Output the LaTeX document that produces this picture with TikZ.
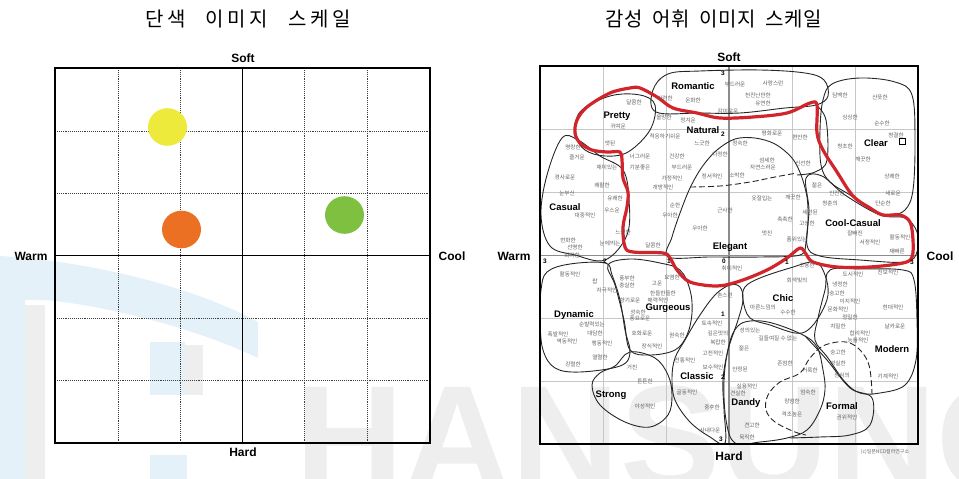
\documentclass[tikz,border=0pt]{standalone}
\usepackage{fontspec}
\newfontfamily\kr{Noto Sans CJK KR}
\newfontfamily\ttl[LetterSpace=18,WordSpace=2.5]{Noto Sans CJK KR}
\newfontfamily\ttlb[LetterSpace=3,WordSpace=1.9]{Noto Sans CJK KR}
\newfontfamily\lsb{Liberation Sans Bold}
\definecolor{wmblue}{HTML}{E4F1F9}
\definecolor{wmgray}{HTML}{EEEEEE}
\definecolor{cyel}{HTML}{EEEA3C}
\definecolor{cora}{HTML}{EC7023}
\definecolor{cgrn}{HTML}{80C040}
\definecolor{redline}{HTML}{D1242B}
\begin{document}
\begin{tikzpicture}[x=1pt,y=-1pt,
  word/.style={font=\kr\fontsize{5.6}{6}\selectfont, text=black!62, inner sep=0pt},
  lbl/.style={font=\lsb\fontsize{9.5}{10}\selectfont, inner sep=0pt},
  axl/.style={font=\lsb\fontsize{12}{12}\selectfont, inner sep=0pt},
  num/.style={font=\lsb\fontsize{6.5}{7}\selectfont, inner sep=0pt},
  titlestyle/.style={font=\ttl\fontsize{20}{22}\selectfont, inner sep=0pt},
  titlestyleb/.style={font=\ttlb\fontsize{20}{22}\selectfont, inner sep=0pt},
  blob/.style={draw=black!85, line width=0.9pt},
  dotgrid/.style={draw=black!75, line width=0.9pt, densely dotted},
  rgrid/.style={draw=black!22, line width=0.6pt}]
\useasboundingbox (0,0) rectangle (959,479);
% watermark
\begin{scope}
\clip (0,0) rectangle (959,479);
\fill[wmblue] (0,256) .. controls (100,262) and (200,290) .. (258,322) -- (258,358) .. controls (200,330) and (110,306) .. (45,300) -- (25,300) -- (25,479) -- (0,479) -- cycle;
\fill[wmgray] (25,305) rectangle (45,479);
\fill[wmblue] (150,342) rectangle (185,395);
\fill[wmgray] (185,345) rectangle (203,395);
\fill[wmblue] (150,455) rectangle (187,479);
\node[anchor=base west, font=\lsb\fontsize{150}{150}\selectfont, text=wmgray, inner sep=0pt] (wm) at (295,490) {HANSUNG};
\end{scope}
% ---------- left panel ----------
\node[titlestyle] (t1) at (248,19) {단색 이미지 스케일};
\foreach \gx in {118,180.3,304.3,367.7} \draw[dotgrid] (\gx,68) -- (\gx,443);
\foreach \gy in {131.3,193.3,318.3,380.3} \draw[dotgrid] (55,\gy) -- (430,\gy);
\draw[line width=0.9pt] (242.3,68) -- (242.3,443);
\draw[line width=0.9pt] (55,255.7) -- (430,255.7);
\draw[line width=1.8pt] (55,68.3) rectangle (429.7,443.3);
\fill[cyel] (167.5,127) ellipse [x radius=19.5, y radius=18.8];
\fill[cora] (181.5,229.5) ellipse [x radius=19.5, y radius=18.8];
\fill[cgrn] (344.5,215) ellipse [x radius=19.5, y radius=18.8];
\node[axl] (ls) at (243,58) {Soft};
\node[axl] (lh) at (243,452) {Hard};
\node[axl] (lw) at (31,256) {Warm};
\node[axl] (lc) at (452,256) {Cool};
% ---------- right panel ----------
\node[titlestyleb] (t2) at (714,19) {감성 어휘 이미지 스케일};
\foreach \gx in {603,666,792,855} \draw[rgrid] (\gx,66) -- (\gx,444);
\foreach \gy in {129,192,318,381} \draw[rgrid] (540,\gy) -- (918,\gy);
\draw[draw=black!45, line width=1.1pt] (729,66) -- (729,444);
\draw[draw=black!45, line width=1.1pt] (540,255.5) -- (918,255.5);
% blobs
\draw[blob] plot[smooth cycle, tension=0.6] coordinates {(656,112) (653,90) (668,74) (700,71) (760,70) (805,73) (824,80) (828,96) (816,105) (785,108) (740,113) (700,113)};
\draw[blob] plot[smooth cycle, tension=0.6] coordinates {(580,112) (610,96) (640,95) (655,105) (650,130) (628,152) (605,156) (585,150) (576,135)};
\draw[blob] plot[smooth cycle, tension=0.6] coordinates {(562,138) (578,140) (600,156) (623,170) (629,200) (627,235) (605,260) (575,255) (550,246) (541,215) (547,175)};
\draw[blob] plot[smooth, tension=0.6] coordinates {(816,105) (826,120) (827,160) (815,172) (797,175)};
\draw[blob] plot[smooth cycle, tension=0.55] coordinates {(668,257) (672,237) (680,213) (690,188) (702,167) (717,150) (735,139) (755,138) (775,144) (792,158) (801,175) (807,197) (808,220) (806,242) (800,255) (760,257) (710,257)};
\draw[blob, dashed, dash pattern=on 6pt off 3pt] plot[smooth, tension=0.6] coordinates {(690,187) (720,186) (750,182) (775,177) (797,173)};
\draw[blob] plot[smooth cycle, tension=0.6] coordinates {(823,100) (832,84) (860,78) (895,82) (912,95) (915,140) (913,190) (905,210) (890,215) (875,212) (850,195) (830,182) (821,165) (820,130)};
\draw[blob] plot[smooth cycle, tension=0.6] coordinates {(806,178) (822,176) (845,195) (880,215) (905,218) (917,232) (917,252) (905,262) (860,260) (820,256) (807,245) (809,210)};
\draw[blob] plot[smooth cycle, tension=0.6] coordinates {(547,272) (570,264) (605,263) (612,275) (620,300) (625,330) (630,353) (620,366) (580,372) (555,368) (543,350) (540,320) (541,290)};
\draw[blob] plot[smooth cycle, tension=0.6] coordinates {(608,265) (630,259) (660,263) (680,270) (690,290) (692,313) (687,335) (675,350) (650,355) (630,350) (624,320) (615,285)};
\draw[blob] plot[smooth cycle, tension=0.6] coordinates {(630,352) (655,358) (668,375) (672,395) (668,415) (650,427) (625,422) (600,405) (592,385) (600,373) (615,366)};
\draw[blob] plot[smooth cycle, tension=0.6] coordinates {(740,287) (743,300) (738,320) (728,350) (723,380) (724,410) (725,443) (710,437) (690,422) (675,400) (672,378) (675,358) (685,340) (698,318) (715,295) (730,285)};
\draw[blob] plot[smooth cycle, tension=0.6] coordinates {(745,287) (760,278) (790,268) (815,262) (825,275) (828,295) (820,315) (808,330) (795,333) (770,325) (750,318) (743,300)};
\draw[blob] plot[smooth cycle, tension=0.6] coordinates {(737,327) (750,321) (772,323) (803,335) (817,347) (823,370) (825,390) (820,410) (807,430) (787,438) (760,442) (735,443) (726,420) (724,380) (729,345)};
\draw[blob, dashed, dash pattern=on 6pt off 3pt] plot[smooth, tension=0.6] coordinates {(872,395) (868,362) (850,343) (825,345) (810,358) (800,373) (780,382) (768,395) (766,410) (775,422) (795,432) (806,435)};
\draw[blob] plot[smooth, tension=0.6] coordinates {(805,336) (827,360) (850,388) (872,398) (870,425) (850,435) (820,437) (790,438)};
\draw[blob] plot[smooth cycle, tension=0.6] coordinates {(830,270) (860,269) (903,270) (914,280) (917,320) (916,360) (905,385) (880,393) (860,393) (845,382) (828,358) (815,340) (818,318) (825,290)};
% frame
\draw[line width=2.4pt] (540,66) rectangle (918,444);
% red contour
\draw[redline, line width=3.2pt, line join=round] plot[smooth cycle, tension=0.55] coordinates {(630,88) (610,93) (587,107) (577,120) (575,133) (580,143) (592,150) (607,152) (620,152) (622,160) (623,178) (628,192) (627,207) (623,227) (625,247) (633,252) (663,253) (670,258) (677,270) (690,282) (717,286) (740,281) (767,270) (787,258) (800,248) (806,254) (813,262) (837,267) (870,267) (903,263) (912,257) (913,240) (910,222) (900,215) (883,215) (870,208) (853,196) (837,172) (823,150) (817,133) (817,105) (810,103) (787,113) (753,117) (720,118) (697,113) (673,108) (657,97) (640,88)};
% axis numbers
\node[num] (n1) at (723,73) {3};
\node[num] (n2) at (723,134) {2};
\node[num] (n3) at (723,314) {1};
\node[num] (n4) at (723,377) {2};
\node[num] (n5) at (721,439) {3};
\node[num] (n6) at (545,261) {3};
\node[num] (n7) at (605,261) {2};
\node[num] (n8) at (669,261) {1};
\node[num] (n9) at (724,261) {0};
\node[num] (n10) at (787,262) {1};
\node[num] (n11) at (912,262) {3};
% words
\foreach [count=\i] \x/\y/\t in {735/84/부드러운, 773/83/사랑스런, 665/98/가련한, 693/100/온화한, 634/102/달콤한, 758/95/천진난만한, 763/103/유연한, 728/111/감미로운, 618/126/귀여운, 664/117/올망한, 688/120/정겨운, 665/136/적응하기쉬운, 702/143/느긋한, 573/147/명랑한, 577/157/즐거운, 607/167/재미있는, 610/143/앳된, 640/156/너그러운, 677/156/건강한, 640/167/기분좋은, 682/167/부드러운, 565/177/경사로운, 602/185/쾌활한, 672/178/가정적인, 663/187/개방적인, 712/176/정서적인, 567/193/눈부신, 615/198/유쾌한, 612/210/우스운, 585/215/대중적인, 623/232/느긋한, 568/240/번화한, 575/247/선명한, 610/243/눈에띄는, 572/255/화려한, 675/205/순한, 670/215/우아한, 653/245/달콤한, 700/228/우아한, 725/210/근사한, 772/133/평화로운, 800/137/편안한, 740/143/정숙한, 720/154/다정한, 767/160/섬세한, 763/167/자연스러운, 803/163/신선한, 737/175/소박한, 840/95/담백한, 880/97/산뜻한, 850/117/싱싱한, 882/123/순수한, 896/135/청결한, 845/146/청초한, 863/159/깨끗한, 892/176/상쾌한, 817/185/젊은, 837/193/안전한, 893/193/새로운, 830/203/청춘의, 883/203/단순한, 762/198/옷잘입는, 793/197/깨끗한, 810/212/세련된, 807/223/고상한, 785/219/촉촉한, 767/233/멋진, 797/239/품위있는, 855/233/잘빠진, 870/242/서정적인, 900/237/활동적인, 897/251/재빠른, 807/265/조용한, 732/268/취미적인, 853/274/도시적인, 888/272/진보적인, 797/280/회색빛의, 840/284/냉정한, 837/293/숭고한, 850/301/이지적인, 893/307/현대적인, 838/309/문화적인, 850/317/정밀한, 763/307/마른느낌의, 788/312/수수한, 725/295/촌스런, 750/330/성의있는, 778/338/길들여질 수 없는, 744/348/젊은, 740/369/안정된, 785/363/존엄한, 810/370/거룩한, 838/326/치밀한, 860/333/합리적인, 858/340/능률적인, 895/326/날카로운, 838/352/숭고한, 838/363/성실한, 842/375/정식의, 888/376/기계적인, 747/386/실용적인, 738/393/견실한, 808/392/엄숙한, 792/401/장엄한, 792/414/격조높은, 847/417/권위적인, 752/425/견고한, 747/437/묵직한, 712/323/토속적인, 718/333/깊은맛의, 718/342/복잡한, 713/353/고전적인, 685/360/전통적인, 713/367/보수적인, 687/392/골동적인, 712/407/중후한, 710/430/사내다운, 627/278/풍부한, 627/285/충실한, 657/283/고운, 663/293/한들한들한, 630/300/향기로운, 658/300/매력적인, 672/277/요염한, 570/274/활동적인, 595/281/팝, 607/290/자극적인, 638/312/성숙한, 640/318/풍요로운, 592/324/순발력있는, 558/334/폭발적인, 595/333/대담한, 567/341/역동적인, 602/343/행동적인, 600/357/열렬한, 573/364/강렬한, 642/333/호화로운, 652/346/장식적인, 677/335/원숙한, 632/367/거친, 645/381/튼튼한, 645/406/야성적인}
  \node[word] (w\i) at (\x,\y) {\t};
% group labels
\node[lbl] (gRom) at (693,86) {Romantic};
\node[lbl] (gPre) at (617,116) {Pretty};
\node[lbl] (gNat) at (703,130) {Natural};
\node[lbl] (gCle) at (876,143) {Clear};
\draw[line width=0.6pt] (899,138.5) rectangle (905,144.5);
\node[lbl] (gCas) at (565,207) {Casual};
\node[lbl] (gEle) at (730,247) {Elegant};
\node[lbl] (gCoo) at (853,223) {Cool-Casual};
\node[lbl] (gDyn) at (574,315) {Dynamic};
\node[lbl] (gGur) at (668,308) {Gurgeous};
\node[lbl] (gChi) at (783,298) {Chic};
\node[lbl] (gMod) at (892,349) {Modern};
\node[lbl] (gCla) at (697,376) {Classic};
\node[lbl] (gStr) at (611,395) {Strong};
\node[lbl] (gDan) at (746,403) {Dandy};
\node[lbl] (gFor) at (842,406) {Formal};
% axis labels
\node[axl] (rs) at (729,57) {Soft};
\node[axl] (rh) at (729,456) {Hard};
\node[axl] (rw) at (514,256) {Warm};
\node[axl] (rc) at (940,256) {Cool};
\node[font=\kr\fontsize{5}{6}\selectfont, text=black!60, inner sep=0pt] (copy) at (885,452) {(c)일본NCD컬러연구소};
\end{tikzpicture}
\end{document}
